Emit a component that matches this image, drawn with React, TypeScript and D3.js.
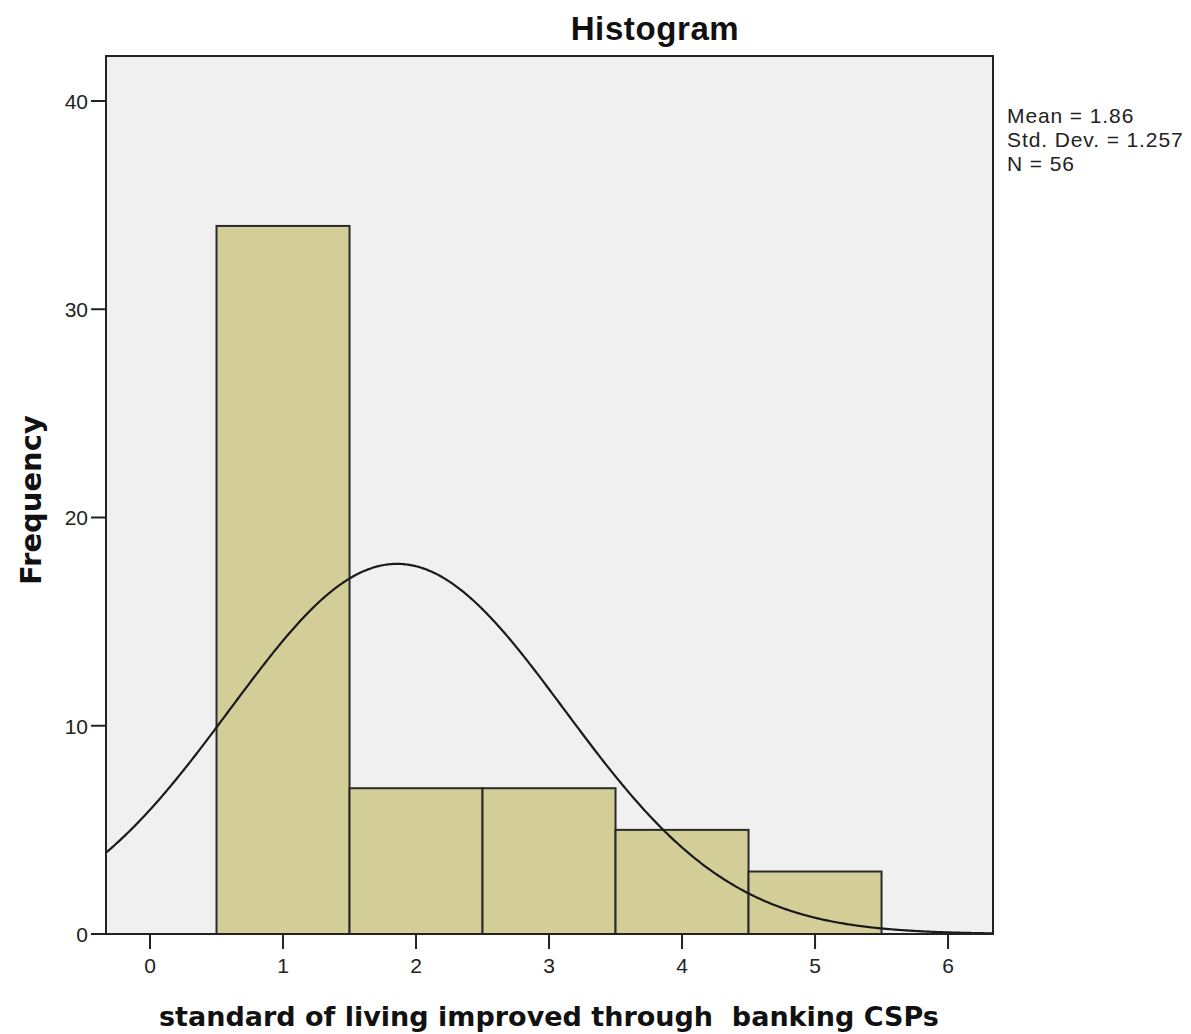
import React from "react";
import * as d3 from "d3";

const binStarts = [0.5, 1.5, 2.5, 3.5, 4.5];
const binEnds = [1.5, 2.5, 3.5, 4.5, 5.5];
const frequencies = [34, 7, 7, 5, 3];
const xTicks = [0, 1, 2, 3, 4, 5, 6];
const yTicks = [0, 10, 20, 30, 40];
const statMean = 1.86;
const statSd = 1.257;
const statN = 56;
const statLines = ["Mean = 1.86", "Std. Dev. = 1.257", "N = 56"];

const W = 1191;
const H = 1034;
const left = 106, right = 993, top = 56, bottom = 934;

export default function App() {
  const x = d3.scaleLinear().domain([-0.331, 6.338]).range([left, right]);
  const y = d3.scaleLinear().domain([0, 42.16]).range([bottom, top]);
  const mean = d3.sum(frequencies.map((f, i) => f * (binStarts[i] + binEnds[i]) / 2)) / d3.sum(frequencies);
  const binW = 1;
  const pdf = (v: number) =>
    (statN * binW) / (statSd * Math.sqrt(2 * Math.PI)) *
    Math.exp(-0.5 * ((v - mean) / statSd) ** 2);
  const xs = d3.range(-0.331, 6.338, 0.01).concat([6.338]);
  const line = d3.line<number>().x((d) => x(d)).y((d) => y(pdf(d)));
  const sans = "'Liberation Sans', Arial, sans-serif";
  const bold = "'DejaVu Sans', Verdana, sans-serif";
  return (
    <svg width={W} height={H} style={{ position: "absolute", left: 0, top: 0, background: "#fff" }}>
      <defs>
        <clipPath id="plot">
          <rect x={left} y={top} width={right - left} height={bottom - top} />
        </clipPath>
      </defs>
      <rect x={left} y={top} width={right - left} height={bottom - top} fill="#f0f0f0" />
      {frequencies.map((f, i) => (
        <rect
          key={i}
          x={x(binStarts[i])}
          y={y(f)}
          width={x(binEnds[i]) - x(binStarts[i])}
          height={y(0) - y(f)}
          fill="#d3ce97"
          stroke="#2b2b2b"
          strokeWidth={2}
        />
      ))}
      <path d={line(xs) || ""} fill="none" stroke="#1a1a1a" strokeWidth={2.2} clipPath="url(#plot)" />
      <rect x={left} y={top} width={right - left} height={bottom - top} fill="none" stroke="#222" strokeWidth={2} />
      {yTicks.map((t) => (
        <g key={t}>
          <line x1={left - 15} x2={left} y1={y(t)} y2={y(t)} stroke="#222" strokeWidth={2} />
          <text x={88} y={y(t) + 8} textAnchor="end" fontFamily={sans} fontSize={21} fill="#222">{t}</text>
        </g>
      ))}
      {xTicks.map((t) => (
        <g key={t}>
          <line x1={x(t)} x2={x(t)} y1={bottom} y2={bottom + 15} stroke="#222" strokeWidth={2} />
          <text x={x(t)} y={973} textAnchor="middle" fontFamily={sans} fontSize={21} fill="#222">{t}</text>
        </g>
      ))}
      <text x={655} y={40} textAnchor="middle" fontFamily={sans} fontWeight="bold" fontSize={33} letterSpacing={0.6} fill="#111">Histogram</text>
      <text x={549} y={1026} textAnchor="middle" fontFamily={bold} fontWeight="bold" fontSize={27} fill="#111" style={{ whiteSpace: "pre" }}>
        standard of living improved through  banking CSPs
      </text>
      <text transform={`translate(41,500) rotate(-90)`} textAnchor="middle" fontFamily={bold} fontWeight="bold" fontSize={29} fill="#111">Frequency</text>
      {statLines.map((s, i) => (
        <text key={i} x={1007} y={123 + i * 24} fontFamily={sans} fontSize={21} letterSpacing={0.9} fill="#222">{s}</text>
      ))}
    </svg>
  );
}
